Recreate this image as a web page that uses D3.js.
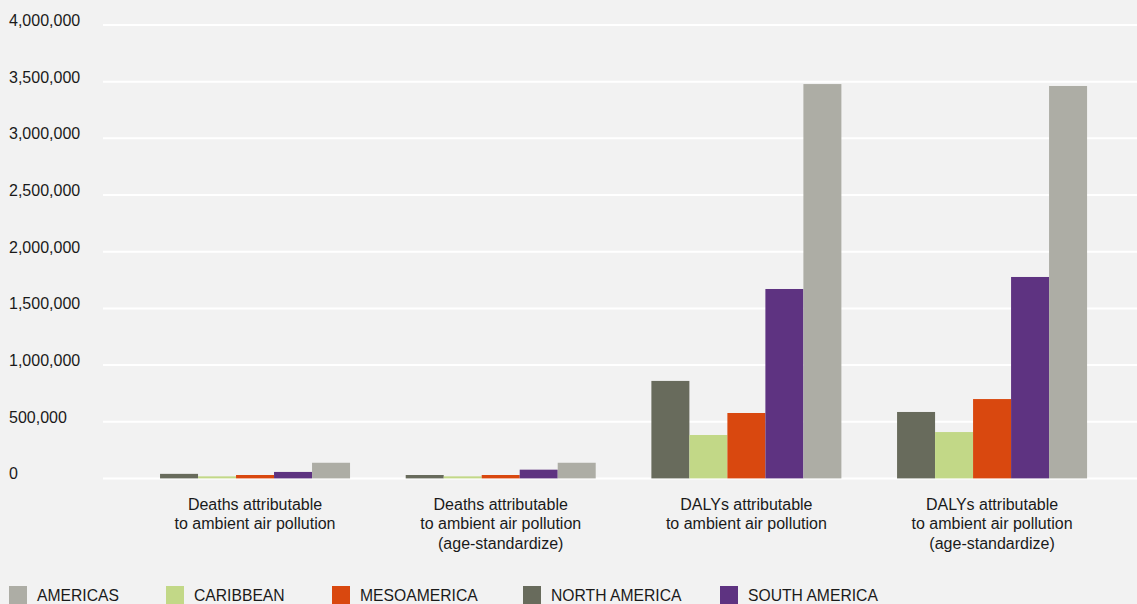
<!DOCTYPE html>
<html><head><meta charset="utf-8">
<script src="https://cdn.jsdelivr.net/npm/d3@7"></script>
<style>
body{margin:0;background:#f2f2f2;}
svg{display:block;font-family:"Liberation Sans",Arial,Helvetica,sans-serif;}
</style></head>
<body><svg id="c" width="1137" height="604"></svg>
<script>
const categories = [
  ["Deaths attributable","to ambient air pollution"],
  ["Deaths attributable","to ambient air pollution","(age-standardize)"],
  ["DALYs attributable","to ambient air pollution"],
  ["DALYs attributable","to ambient air pollution","(age-standardize)"]
];
const seriesNames = ["NORTH AMERICA","CARIBBEAN","MESOAMERICA","SOUTH AMERICA","AMERICAS"];
const legendOrder = ["AMERICAS","CARIBBEAN","MESOAMERICA","NORTH AMERICA","SOUTH AMERICA"];
const northAmerica = [40000, 30000, 860000, 586000];
const caribbean    = [18000, 18000, 383000, 409000];
const mesoamerica  = [30000, 30000, 577000, 700000];
const southAmerica = [57000, 77000, 1671000, 1777000];
const americas     = [138000, 138000, 3479000, 3462000];
const yTicks = [0,500000,1000000,1500000,2000000,2500000,3000000,3500000,4000000];
const colors = {"AMERICAS":"#adada5","CARIBBEAN":"#c2d887","MESOAMERICA":"#d9480f","NORTH AMERICA":"#686b5c","SOUTH AMERICA":"#5e3381"};
const seriesValues = {"NORTH AMERICA":northAmerica,"CARIBBEAN":caribbean,"MESOAMERICA":mesoamerica,"SOUTH AMERICA":southAmerica,"AMERICAS":americas};

const svg = d3.select("#c");
svg.append("rect").attr("width",1137).attr("height",604).attr("fill","#f2f2f2");

const y = d3.scaleLinear().domain([0,4000000]).range([478.4,25]);
const x0 = d3.scaleBand().domain(d3.range(categories.length)).range([132.2,1114.9]).paddingInner(0.2266).paddingOuter(0.1133);
const x1 = d3.scaleBand().domain(seriesNames).range([0,x0.bandwidth()]);
const fmt = d3.format(",");

// gridlines
svg.append("g").selectAll("line").data(yTicks).join("line")
  .attr("x1",103).attr("x2",1137)
  .attr("y1",d=>y(d)).attr("y2",d=>y(d))
  .attr("stroke","#ffffff").attr("stroke-width",2);

svg.append("g").selectAll("text").data(yTicks).join("text")
  .attr("x",9).attr("y",d=>y(d)+1)
  .attr("font-size",16).attr("fill","#1a1a1a")
  .text(d=>fmt(d));

// bars
const groups = svg.append("g").selectAll("g").data(categories).join("g")
  .attr("transform",(d,i)=>`translate(${x0(i)},0)`);
groups.each(function(d,i){
  d3.select(this).selectAll("rect").data(seriesNames).join("rect")
    .attr("x",s=>x1(s)).attr("width",x1.bandwidth())
    .attr("y",s=>y(seriesValues[s][i]))
    .attr("height",s=>y(0)-y(seriesValues[s][i]))
    .attr("fill",s=>colors[s]);
});

// category labels
categories.forEach((lines,i)=>{
  const t = svg.append("text").attr("text-anchor","middle").attr("font-size",16).attr("fill","#1a1a1a");
  lines.forEach((l,j)=>{
    t.append("tspan").attr("x",x0(i)+x0.bandwidth()/2).attr("y",509.5+j*19.5).text(l);
  });
});

// legend
const legX = [9,166,332,523,720];
const leg = svg.append("g").selectAll("g").data(legendOrder).join("g")
  .attr("transform",(d,i)=>`translate(${legX[i]},586)`);
leg.append("rect").attr("width",18).attr("height",18).attr("fill",d=>colors[d]);
leg.append("text").attr("x",28).attr("y",14.5).attr("font-size",15.7).attr("fill","#1a1a1a").text(d=>d);
</script></body></html>
